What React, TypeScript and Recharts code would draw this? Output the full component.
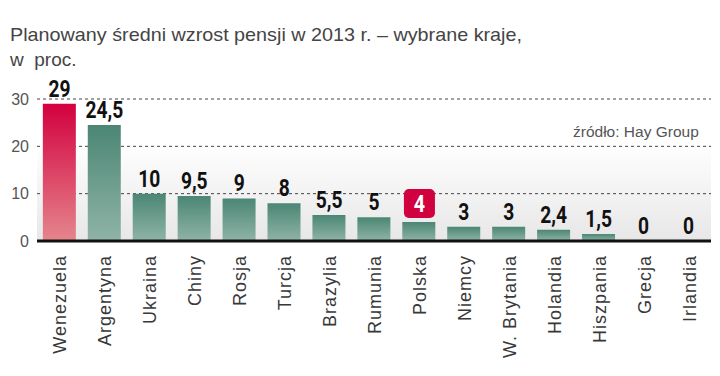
import { ComposedChart, Bar, Line, XAxis, YAxis, CartesianGrid, Cell, LabelList, ReferenceLine } from "recharts";

const countries = [
  "Wenezuela", "Argentyna", "Ukraina", "Chiny", "Rosja", "Turcja", "Brazylia", "Rumunia",
  "Polska", "Niemcy", "W. Brytania", "Holandia", "Hiszpania", "Grecja", "Irlandia",
];
const growth = [29, 24.5, 10, 9.5, 9, 8, 5.5, 5, 4, 3, 3, 2.4, 1.5, 0, 0];
const yTicks = [0, 10, 20, 30];

const data = countries.map((name, i) => ({ name, value: growth[i] }));

const BOLD = "Roboto, 'DejaVu Sans', sans-serif";
const SANS = "'Liberation Sans', Arial, sans-serif";

const fmt = (v: number) => String(v).replace(".", ",");

// labels sit on an invisible line so zero values still get one
const ValueLabel = (props: any) => {
  const { x, y, value, index } = props;
  if (countries[index] === "Polska") {
    return (
      <g>
        <rect x={x - 15} y={y - 33} width={31} height={29} rx={5} fill="#d1003f" />
        <g transform={`translate(${x + 0.5},${y - 10}) scale(0.82,1)`}>
          <text textAnchor="middle" fill="#fff" fontFamily={BOLD} fontWeight="bold" fontSize={24}>
            {fmt(value)}
          </text>
        </g>
      </g>
    );
  }
  return (
    <g transform={`translate(${x},${y - 7}) scale(0.8,1)`}>
      <text textAnchor="middle" fill="#111" fontFamily={BOLD} fontWeight="bold" fontSize={24}>
        {fmt(value)}
      </text>
    </g>
  );
};

const CountryTick = (props: any) => {
  const { x, y, payload } = props;
  return (
    <text
      transform={`translate(${x + 7},${y + 6}) rotate(-90)`}
      textAnchor="end"
      fill="#383838"
      fontFamily={SANS}
      fontSize={18}
      letterSpacing={1}
    >
      {payload.value}
    </text>
  );
};

export default function App() {
  return (
    <div style={{ position: "absolute", left: 0, top: 0, width: 720, height: 376, background: "#fff" }}>
      <svg width={720} height={80} style={{ position: "absolute", left: 0, top: 0 }}>
        <text x={10} y={41} fill="#444" fontFamily={SANS} fontSize={19} textLength={512} lengthAdjust="spacingAndGlyphs">
          Planowany średni wzrost pensji w 2013 r. – wybrane kraje,
        </text>
        <text x={10} y={66} fill="#444" fontFamily={SANS} fontSize={19}>
          {"w\u00a0\u00a0proc."}
        </text>
      </svg>
      <div style={{ position: "absolute", left: 0, top: 0 }}>
        <ComposedChart
          width={720}
          height={376}
          data={data}
          margin={{ top: 99, right: 9, bottom: 0, left: 0 }}
          barCategoryGap="13%"
        >
          <defs>
            <linearGradient id="redGrad" x1="0" y1="0" x2="0" y2="1">
              <stop offset="0%" stopColor="#d3003f" />
              <stop offset="100%" stopColor="#e5868c" />
            </linearGradient>
            <linearGradient id="tealGrad" x1="0" y1="0" x2="0" y2="1">
              <stop offset="0%" stopColor="#4b8674" />
              <stop offset="100%" stopColor="#8fb4a7" />
            </linearGradient>
            <linearGradient id="bgGrad" x1="0" y1="0" x2="0" y2="1">
              <stop offset="0%" stopColor="#ffffff" />
              <stop offset="30%" stopColor="#ffffff" />
              <stop offset="100%" stopColor="#e7e7e7" />
            </linearGradient>
          </defs>
          <CartesianGrid vertical={false} stroke="#444" strokeDasharray="3 3" fill="url(#bgGrad)" fillOpacity={1} />
          <XAxis
            dataKey="name"
            interval={0}
            axisLine={false}
            tickLine={false}
            height={135}
            tick={<CountryTick />}
          />
          <YAxis
            domain={[0, 30]}
            ticks={yTicks}
            width={37}
            axisLine={false}
            tickLine={false}
            tickMargin={2}
            tick={{ fill: "#555", fontSize: 16, fontFamily: SANS }}
          />
          <Bar dataKey="value" isAnimationActive={false}>
            {data.map((d, i) => (
              <Cell key={d.name} fill={i === 0 ? "url(#redGrad)" : "url(#tealGrad)"} />
            ))}
          </Bar>
          <Line dataKey="value" stroke="none" dot={false} activeDot={false} isAnimationActive={false}>
            <LabelList dataKey="value" content={<ValueLabel />} />
          </Line>
          <ReferenceLine y={0} stroke="#111" strokeWidth={3} />
        </ComposedChart>
      </div>
      <div
        style={{
          position: "absolute",
          left: 573,
          top: 123,
          fontFamily: SANS,
          fontSize: 15.5,
          color: "#555",
        }}
      >
        źródło: Hay Group
      </div>
    </div>
  );
}
